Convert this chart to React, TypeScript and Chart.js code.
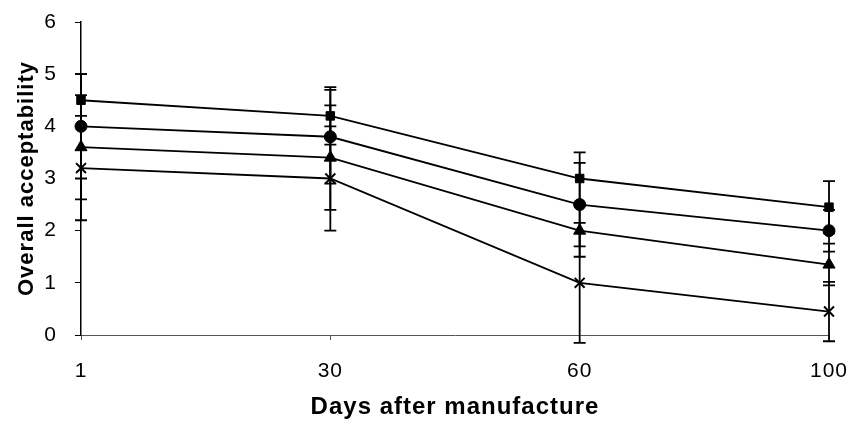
import React, { useEffect, useRef } from "react";
import { Chart, registerables } from "chart.js";

Chart.register(...registerables);

const days = ["1", "30", "60", "100"];
const squareVals = [4.5, 4.2, 3.0, 2.45];
const circleVals = [4.0, 3.8, 2.5, 2.0];
const triangleVals = [3.6, 3.4, 2.0, 1.35];
const crossVals = [3.2, 3.0, 1.0, 0.45];
const squareErr = [0.5, 0.55, 0.5, 0.5];
const circleErr = [1.0, 0.9, 0.8, 0.4];
const triangleErr = [1.0, 1.0, 0.5, 0.4];
const crossErr = [1.0, 1.0, 1.15, 0.57];
const yTicks = [0, 1, 2, 3, 4, 5, 6];

const FONT = "'Liberation Sans', Arial, Helvetica, sans-serif";

const spacingPlugin = {
  id: "spacing",
  beforeUpdate(chart: any) {
    chart.ctx.letterSpacing = "1px";
  },
  beforeDraw(chart: any) {
    chart.ctx.letterSpacing = "1px";
  },
};

const errorBarPlugin = {
  id: "errorBars",
  afterDatasetsDraw(chart: any) {
    const ctx = chart.ctx;
    const y = chart.scales.y;
    ctx.save();
    ctx.strokeStyle = "#000";
    ctx.lineWidth = 1.8;
    chart.data.datasets.forEach((ds: any, di: number) => {
      const meta = chart.getDatasetMeta(di);
      const errs: number[] = ds.errors || [];
      meta.data.forEach((pt: any, i: number) => {
        const v = ds.data[i];
        const e = errs[i];
        if (e == null) return;
        const x = pt.x;
        const yTop = y.getPixelForValue(v + e);
        const yBot = y.getPixelForValue(v - e);
        ctx.beginPath();
        ctx.moveTo(x, yTop);
        ctx.lineTo(x, yBot);
        ctx.moveTo(x - 6, yTop);
        ctx.lineTo(x + 6, yTop);
        ctx.moveTo(x - 6, yBot);
        ctx.lineTo(x + 6, yBot);
        ctx.stroke();
      });
    });
    ctx.restore();
  },
};

function mk(label: string, data: number[], errors: number[], style: string, radius: number) {
  return {
    label,
    data,
    errors,
    borderColor: "#000",
    backgroundColor: "#000",
    borderWidth: 1.8,
    pointStyle: style,
    pointRadius: radius,
    pointBorderWidth: style === "crossRot" ? 2 : 1,
    pointBackgroundColor: "#000",
    pointBorderColor: "#000",
    tension: 0,
  } as any;
}

function zeroPad(s: any) {
  s.paddingTop = 0;
  s.paddingBottom = 0;
  s.paddingLeft = 0;
  s.paddingRight = 0;
}

export default function App() {
  const ref = useRef<HTMLCanvasElement | null>(null);
  useEffect(() => {
    if (!ref.current) return;
    const chart = new Chart(ref.current, {
      type: "line",
      data: {
        labels: days,
        datasets: [
          mk("Square", squareVals, squareErr, "rect", 6),
          mk("Circle", circleVals, circleErr, "circle", 6),
          mk("Triangle", triangleVals, triangleErr, "triangle", 7),
          mk("Cross", crossVals, crossErr, "crossRot", 7),
        ],
      },
      options: {
        animation: false,
        responsive: false,
        maintainAspectRatio: false,
        layout: { padding: { top: 22, right: 24, left: 0, bottom: 0 } },
        plugins: {
          legend: { display: false },
          tooltip: { enabled: false },
        },
        scales: {
          x: {
            type: "category",
            offset: false,
            afterFit: (s: any) => {
              s.height = 87;
              zeroPad(s);
            },
            grid: {
              display: true,
              drawOnChartArea: false,
              tickLength: 5,
              color: "#555",
            },
            border: { display: true, color: "#555", width: 1 },
            ticks: {
              color: "#000",
              padding: 19,
              font: { family: FONT, size: 21 },
              maxRotation: 0,
            },
            title: {
              display: true,
              text: "Days after manufacture",
              color: "#000",
              font: { family: FONT, size: 24, weight: "bold" },
              padding: { top: 2, bottom: 0 },
            },
          },
          y: {
            min: 0,
            max: 6,
            afterFit: (s: any) => {
              s.width = 81;
              zeroPad(s);
            },
            afterBuildTicks: (s: any) => {
              s.ticks = yTicks.map((v) => ({ value: v }));
            },
            grid: {
              display: true,
              drawOnChartArea: false,
              tickLength: 6,
              color: "#000",
            },
            border: { display: true, color: "#000", width: 1.5 },
            ticks: {
              color: "#000",
              padding: 18,
              stepSize: 1,
              font: { family: FONT, size: 21 },
            },
            title: {
              display: true,
              text: "Overall acceptability",
              color: "#000",
              font: { family: FONT, size: 22, weight: "bold" },
              padding: { top: 14, bottom: 0 },
            },
          },
        },
      },
      plugins: [spacingPlugin, errorBarPlugin],
    } as any);
    return () => chart.destroy();
  }, []);
  return (
    <div style={{ position: "fixed", left: 0, top: 0, width: 853, height: 422, background: "#fff" }}>
      <canvas ref={ref} width={853} height={422} style={{ display: "block", width: 853, height: 422 }} />
    </div>
  );
}
